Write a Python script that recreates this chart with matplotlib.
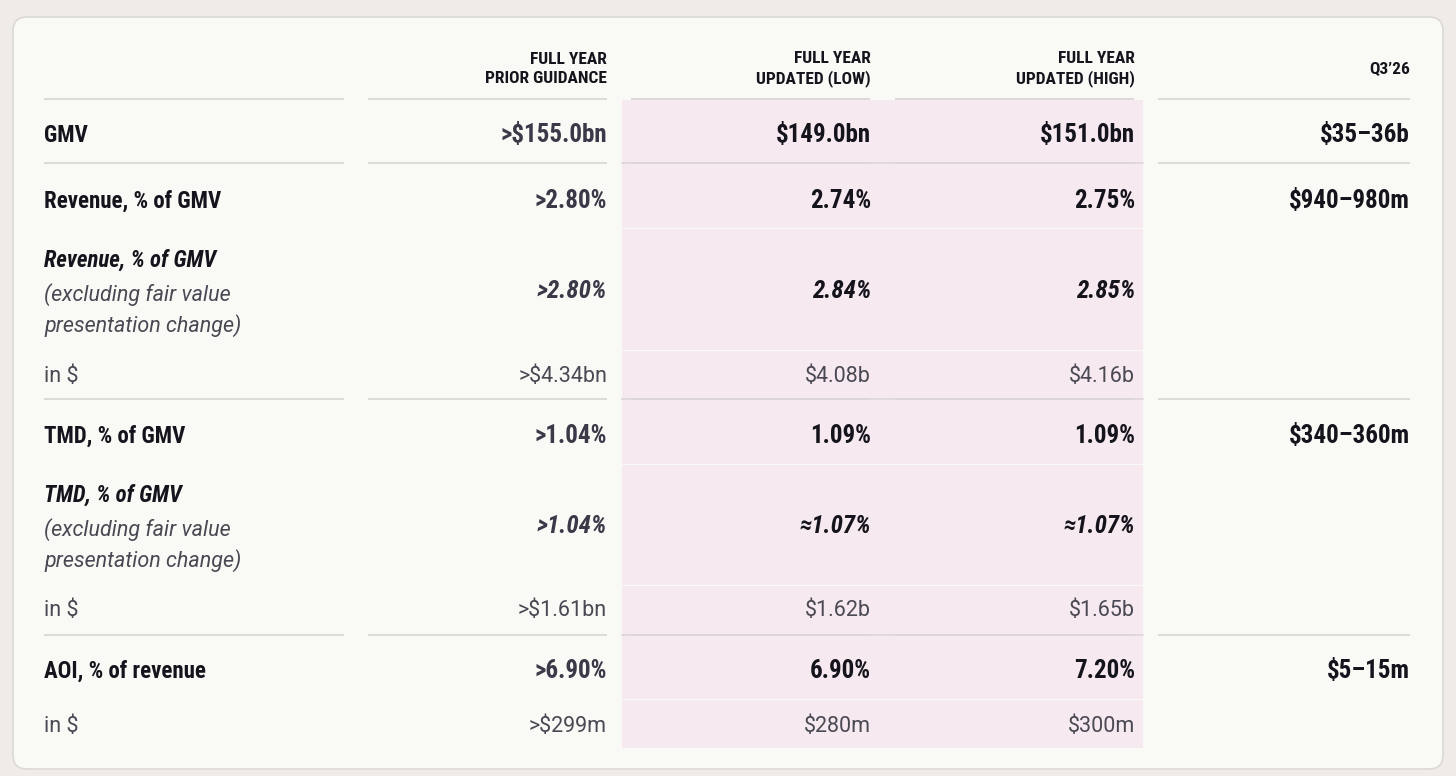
"""
Full-year guidance table: prior vs updated (low / high) and Q3'26
"""
import matplotlib
matplotlib.use('Agg')
from matplotlib import pyplot as plt
from matplotlib import font_manager as fm
from matplotlib.patches import FancyBboxPatch, Rectangle

# DATA
col_headers = ['FULL YEAR\nPRIOR GUIDANCE', 'FULL YEAR\nUPDATED (LOW)',
               'FULL YEAR\nUPDATED (HIGH)', 'Q3\u201926']

# (label, sub label, kind, values for the 4 columns)
rows = [
    ('GMV', None, 'main', ['>$155.0bn', '$149.0bn', '$151.0bn', '$35\u201336b']),
    ('Revenue, % of GMV', None, 'main', ['>2.80%', '2.74%', '2.75%', '$940\u2013980m']),
    ('Revenue, % of GMV', '(excluding fair value\npresentation change)', 'ital',
     ['>2.80%', '2.84%', '2.85%', '']),
    ('in $', None, 'dollar', ['>$4.34bn', '$4.08b', '$4.16b', '']),
    ('TMD, % of GMV', None, 'main', ['>1.04%', '1.09%', '1.09%', '$340\u2013360m']),
    ('TMD, % of GMV', '(excluding fair value\npresentation change)', 'ital',
     ['>1.04%', '\u22481.07%', '\u22481.07%', '']),
    ('in $', None, 'dollar', ['>$1.61bn', '$1.62b', '$1.65b', '']),
    ('AOI, % of revenue', None, 'main', ['>6.90%', '6.90%', '7.20%', '$5\u201315m']),
    ('in $', None, 'dollar', ['>$299m', '$280m', '$300m', '']),
]


def pick(cands):
    names = {f.name for f in fm.fontManager.ttflist}
    for c in cands:
        if c in names:
            return c
    return 'DejaVu Sans'


COND = pick(['Roboto Condensed', 'DejaVu Sans Condensed', 'Liberation Sans Narrow',
             'Open Sans Condensed', 'Roboto', 'DejaVu Sans'])
REG = pick(['Roboto', 'Inter', 'Open Sans', 'DejaVu Sans'])

# layout in pixels
W, H = 1456, 776
row_y = [135, 201, 260, 377, 436, 495, 611, 671, 727]
val_y = {'main': 0, 'ital': 31, 'dollar': 0}
rules = [99, 163, 399, 635]
col_right = [607, 871, 1135, 1410]
seg = [(44, 344), (368, 607), (631, 870), (895, 1134), (1158, 1410)]
band = (622, 1143)
band_rows = [(100, 163), (164, 228), (229, 350), (351, 399), (400, 464),
             (465, 585), (586, 635), (636, 699), (700, 748)]

BLACK = '#15141c'
PRIOR = '#3b3947'
GREY = '#4a4953'
RULE = '#d9d7d4'
PINK = '#f6e9f0'

fig = plt.figure(figsize=(W / 100, H / 100), dpi=100)
fig.patch.set_facecolor('#efebe7')
ax = fig.add_axes([0, 0, 1, 1])
ax.set_xlim(0, W)
ax.set_ylim(H, 0)
ax.axis('off')

# card
ax.add_patch(FancyBboxPatch((13, 17), 1430, 752, boxstyle='round,pad=0,rounding_size=14',
                            fc='#f9f9f6', ec='#dcd9d5', lw=1.2, zorder=0))

# pink band behind updated columns
for y0, y1 in band_rows:
    ax.add_patch(Rectangle((band[0], y0), band[1] - band[0], y1 - y0, fc=PINK, ec='none', zorder=1))

# grey rules
for i, y in enumerate(rules):
    for x0, x1 in seg:
        ax.plot([x0, x1], [y, y], color=RULE, lw=1.3, zorder=2, solid_capstyle='butt')
    if i > 0:
        ax.plot([band[0], band[1]], [y, y], color='#dcd3d8', lw=1.2, zorder=2)

# headers
for hdr, x in zip(col_headers, col_right):
    ax.text(x, 69, hdr, ha='right', va='center', family=COND, weight='heavy',
            fontsize=12.5, color=BLACK, linespacing=1.3)

# body
BIG = dict(family=COND, weight='black', color=BLACK)
for (label, sub, kind, vals), y in zip(rows, row_y):
    if kind == 'main':
        ax.text(44, y, label, ha='left', va='center', fontsize=16.5, **BIG)
    elif kind == 'ital':
        ax.text(44, y, label, ha='left', va='center', style='italic', fontsize=16.5, **BIG)
        ax.text(44, y + 50, sub, ha='left', va='center', family=REG, weight='normal',
                style='italic', fontsize=15.5, color=GREY, linespacing=1.45)
    else:
        ax.text(44, y, label, ha='left', va='center', family=REG, weight='normal',
                fontsize=15.5, color=GREY)

    vy = y + val_y[kind]
    for k, (v, x) in enumerate(zip(vals, col_right)):
        if not v:
            continue
        if kind == 'dollar':
            ax.text(x, vy, v, ha='right', va='center', family=REG, weight='normal',
                    fontsize=15.5, color=GREY)
        else:
            ax.text(x, vy, v, ha='right', va='center', family=COND, weight='black',
                    style='italic' if kind == 'ital' else 'normal', fontsize=18,
                    color=PRIOR if k == 0 else BLACK)

fig.savefig('out.png', dpi=100, facecolor=fig.get_facecolor())
